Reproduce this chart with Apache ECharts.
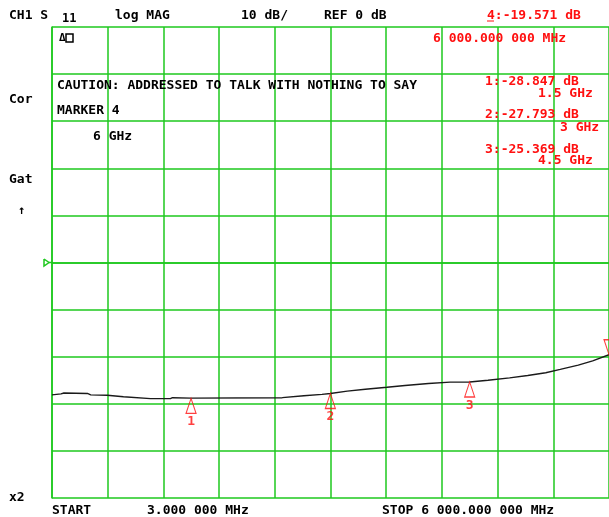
<!DOCTYPE html>
<html>
<head>
<meta charset="utf-8">
<script src="https://cdn.jsdelivr.net/npm/echarts@6/dist/echarts.min.js"></script>
<style>
html, body { margin: 0; padding: 0; background: #fff; }
#main { width: 609px; height: 517px; }
</style>
</head>
<body>
<div id="main"></div>
<script>
// trace: frequency in MHz, magnitude in dB
var START_MHZ = 3;
var STOP_MHZ = 6000;
var traceFreq = [3, 100, 131, 384, 420, 598, 772, 1064, 1278, 1300, 1500, 2482, 2715, 2910, 3000, 3182, 3376, 3609, 3804, 4056, 4289, 4500, 4697, 4930, 5125, 5319, 5475, 5669, 5824, 6000];
var traceDb = [-28.1, -27.9, -27.7, -27.8, -28.1, -28.2, -28.5, -28.9, -28.9, -28.7, -28.8, -28.7, -28.3, -28.0, -27.8, -27.3, -26.9, -26.5, -26.1, -25.7, -25.4, -25.37, -25.0, -24.5, -24.0, -23.4, -22.7, -21.8, -20.9, -19.57];

var markerNames = ['1', '2', '3'];
var markerFreq = [1500, 3000, 4500];
var markerDb = [-28.847, -27.793, -25.369];
var activeFreq = 6000;
var activeDb = -19.571;

var FONT = '"DejaVu Sans Mono", monospace';
var RED = '#ff1010';
var GREEN = '#1ec81e';

var chart = echarts.init(document.getElementById('main'));

// x = left edge, y = vertical middle of the text
function txt(x, y, s, color, size) {
  return {
    type: 'text', x: x, y: y, z: 10,
    style: {
      text: s, fill: color || '#000',
      font: 'bold ' + (size || 13) + 'px ' + FONT,
      align: 'left', verticalAlign: 'middle'
    }
  };
}

var graphics = [
  txt(9, 16, 'CH1 S'),
  txt(62, 19, '11', '#000', 12),
  txt(115, 16, 'log MAG'),
  txt(241, 16, '10 dB/'),
  txt(324, 16, 'REF 0 dB'),
  txt(487, 16, '4:-19.571 dB', RED),
  txt(433, 39, '6 000.000 000 MHz', RED),
  txt(57, 86, 'CAUTION: ADDRESSED TO TALK WITH NOTHING TO SAY'),
  txt(57, 111, 'MARKER 4'),
  txt(93, 137, '6 GHz'),
  txt(485, 82, '1:-28.847 dB', RED),
  txt(538, 94, '1.5 GHz', RED),
  txt(485, 115, '2:-27.793 dB', RED),
  txt(560, 128, '3 GHz', RED),
  txt(485, 150, '3:-25.369 dB', RED),
  txt(538, 161, '4.5 GHz', RED),
  txt(9, 100, 'Cor'),
  txt(9, 180, 'Gat'),
  txt(18, 211, '\u2191', '#000', 12),
  txt(9, 498, 'x2'),
  txt(52, 511, 'START'),
  txt(147, 511, '3.000 000 MHz'),
  txt(382, 511, 'STOP 6 000.000 000 MHz'),
  // little status icon under "11"
  txt(59, 38, '\u0394', '#000', 11),
  { type: 'rect', z: 10, shape: { x: 66, y: 34, width: 7, height: 8 },
    style: { fill: 'none', stroke: '#000', lineWidth: 1.5 } },
  // underline under the active marker number
  { type: 'line', z: 10, shape: { x1: 487, y1: 21, x2: 494, y2: 21 },
    style: { stroke: RED, lineWidth: 1 } },
  // reference position marker
  { type: 'polyline', z: 10, shape: { points: [[44, 259], [44, 266], [49, 262.5], [44, 259]] },
    style: { stroke: GREEN, fill: 'none', lineWidth: 1.5 } },
  { type: 'line', z: 10, shape: { x1: 49, y1: 262.5, x2: 52, y2: 262.5 },
    style: { stroke: GREEN, lineWidth: 1.5 } }
];

function pts(fs, ds) {
  return fs.map(function (f, i) { return [f - START_MHZ, ds[i]]; });
}

var option = {
  backgroundColor: '#fff',
  animation: false,
  grid: { left: 52, top: 27, width: 559, height: 471 },
  xAxis: {
    type: 'value', min: 0, max: STOP_MHZ - START_MHZ, interval: (STOP_MHZ - START_MHZ) / 10,
    axisLine: { show: true, lineStyle: { color: GREEN, width: 1.5 } },
    axisTick: { show: false }, axisLabel: { show: false },
    splitLine: { show: true, lineStyle: { color: GREEN, width: 1.5 } }
  },
  yAxis: {
    type: 'value', min: -50, max: 50, interval: 10,
    axisLine: { show: true, lineStyle: { color: GREEN, width: 1.5 } },
    axisTick: { show: false }, axisLabel: { show: false },
    splitLine: { show: true, lineStyle: { color: GREEN, width: 1.5 } }
  },
  series: [
    {
      type: 'line', data: pts(traceFreq, traceDb), symbol: 'none',
      lineStyle: { color: '#1a1a1a', width: 1.4 }, z: 3
    },
    {
      type: 'scatter', data: pts(markerFreq, markerDb).map(function (p, i) {
        return { value: p, name: markerNames[i] };
      }),
      symbol: 'triangle', symbolSize: [10, 15], symbolOffset: [0, '50%'],
      itemStyle: { color: 'rgba(0,0,0,0)', borderColor: RED, borderWidth: 1.2 },
      label: {
        show: true, position: 'bottom', distance: 1, formatter: '{b}',
        color: RED, fontFamily: FONT, fontWeight: 'bold', fontSize: 13
      },
      z: 4
    },
    {
      type: 'scatter', data: pts([activeFreq], [activeDb]),
      symbol: 'path://M0,0L10,0L5,15Z', symbolSize: [10, 15], symbolOffset: [0, '-50%'],
      itemStyle: { color: 'rgba(0,0,0,0)', borderColor: RED, borderWidth: 1.2 },
      z: 4
    }
  ],
  graphic: graphics
};
chart.setOption(option);
window.addEventListener('resize', function () { chart.resize(); });
</script>
</body>
</html>
